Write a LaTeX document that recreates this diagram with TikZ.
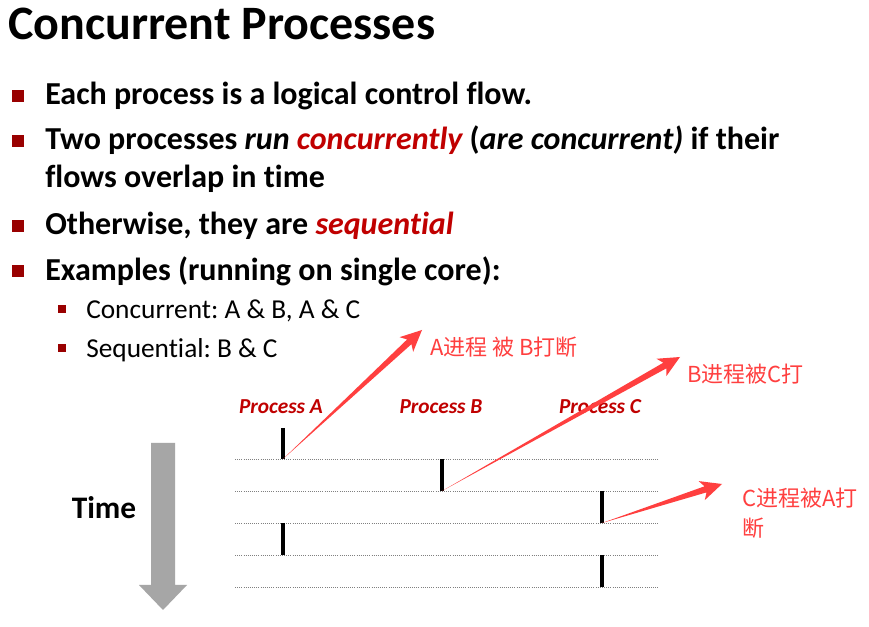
\documentclass[tikz,border=0pt]{standalone}
\usepackage{fontspec}
\setmainfont{Carlito}[Ligatures={NoCommon}]
\newfontfamily\cjkfont{Noto Sans CJK SC}
\usetikzlibrary{calc}
\definecolor{bulletred}{HTML}{990000}
\definecolor{hired}{HTML}{C00000}
\definecolor{annored}{HTML}{FF3F3F}
\definecolor{timegray}{HTML}{A6A6A6}
\definecolor{dotgray}{HTML}{808080}
\frenchspacing

\tikzset{
  bodytext/.style={anchor=base west, inner sep=0pt, font=\fontsize{24}{28}\selectfont\bfseries},
  subtext/.style={anchor=base west, inner sep=0pt, font=\fontsize{20.5}{24}\selectfont},
  bulletbox/.style={fill=bulletred, minimum size=9pt, inner sep=0pt},
  subbox/.style={fill=bulletred, minimum size=6pt, inner sep=0pt},
  proclabel/.style={font=\fontsize{16}{19}\selectfont\bfseries\itshape, text=hired, inner sep=0pt},
  annotext/.style={anchor=west, inner sep=0pt, font=\cjkfont\fontsize{16.5}{22}\selectfont, text=annored, align=left},
  timeline/.style={dotgray, densely dotted, line width=0.6pt},
  runbar/.style={line width=2.8pt, black},
}
% tapered red arrow: #1 start, #2 tip
\newcommand\taperarrow[2]{%
  \fill[annored] (#1) -- ($($(#2)!13pt!(#1)$)!2.4pt!90:(#2)$)
    -- ($($(#2)!16pt!(#1)$)!7.5pt!90:(#2)$) -- (#2)
    -- ($($(#2)!16pt!(#1)$)!7.5pt!-90:(#2)$)
    -- ($($(#2)!13pt!(#1)$)!2.4pt!-90:(#2)$) -- cycle;}

\begin{document}
\begin{tikzpicture}[x=0.75pt,y=-0.75pt]
\useasboundingbox[fill=white] (0,0) rectangle (869,627);

% Title
\node[anchor=base west, inner sep=0pt, font=\fontsize{36}{42}\selectfont\bfseries] (title) at (8,40) {Concurrent Processes};

% Bullets
\node[bulletbox] (q1) at (18,96) {};
\node[bodytext] (b1) at (45,105) {Each process is a logical control flow.};
\node[bulletbox] (q2) at (18,141) {};
\node[bodytext] (b2) at (45,150) {Two processes \textit{run \textcolor{hired}{concurrently}} (\textit{are concurrent)} if their};
\node[bodytext] (b2b) at (45,188) {flows overlap in time};
\node[bulletbox] (q3) at (18,226) {};
\node[bodytext] (b3) at (45,235) {Otherwise, they are \textit{\textcolor{hired}{sequential}}};
\node[bulletbox] (q4) at (18,271) {};
\node[bodytext] (b4) at (45,281) {Examples (running on single core):};
\node[subbox] (s1q) at (62,309) {};
\node[subtext] (s1) at (86,319) {Concurrent: A \& B, A \& C};
\node[subbox] (s2q) at (62,348) {};
\node[subtext] (s2) at (86,358) {Sequential: B \& C};

% Process labels
\node[proclabel] (pA) at (281,407) {Process A};
\node[proclabel] (pB) at (441,407) {Process B};
\node[proclabel] (pC) at (600,407) {Process C};

% Time arrow
\fill[timegray] (151,443) -- (175,443) -- (175,585) -- (187,585) -- (163,610)
  -- (139,585) -- (151,585) -- cycle;
\node[font=\fontsize{23.5}{28}\selectfont\bfseries, inner sep=0pt] (time) at (104,508) {Time};

% Time slices
\foreach \y in {459,491,523,555,587}
  \draw[timeline] (235,\y) -- (658,\y);

% Running intervals
\coordinate (a1top) at (283,428); \coordinate (a1bot) at (283,459);
\coordinate (b1top) at (442,459); \coordinate (b1bot) at (442,491);
\coordinate (c1top) at (602,491); \coordinate (c1bot) at (602,523);
\coordinate (a2top) at (283,523); \coordinate (a2bot) at (283,555);
\coordinate (c2top) at (602,555); \coordinate (c2bot) at (602,587);
\foreach \p in {a1,b1,c1,a2,c2}
  \draw[runbar] (\p top) -- (\p bot);

% Annotations
\node[annotext] (noteA) at (430,347) {A进程 被 B打断};
\node[annotext] (noteB) at (687,374) {B进程被C打};
\node[annotext, anchor=north west] (noteC) at (742,488) {C进程被A打\\断};
\coordinate (tipA) at (422,330);
\coordinate (tipB) at (680,357);
\coordinate (tipC) at (722,484);
\taperarrow{a1bot}{tipA}
\taperarrow{b1bot}{tipB}
\taperarrow{c1bot}{tipC}
\end{tikzpicture}
\end{document}
